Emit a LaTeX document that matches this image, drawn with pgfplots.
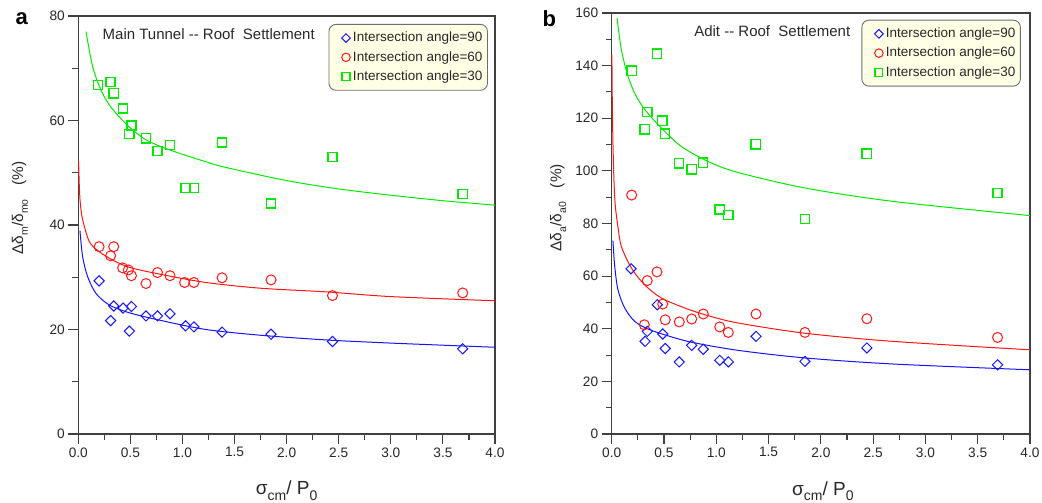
\documentclass[border=0pt]{standalone}
\usepackage{pgfplots}
\pgfplotsset{compat=1.18}
\usepackage{fontspec}
\setmainfont{Liberation Sans}
\definecolor{axgray}{RGB}{64,64,64}
\definecolor{txtgray}{RGB}{40,40,40}
\definecolor{legfill}{RGB}{255,255,230}
\definecolor{legdraw}{RGB}{110,110,110}
\definecolor{pgreen}{RGB}{0,235,0}
\definecolor{pblue}{RGB}{20,20,255}
\definecolor{pred}{RGB}{255,20,20}
\newcommand\sub[2][10.5]{\raisebox{-0.3em}{\fontsize{#1}{#1}\selectfont #2}}
\pgfplotsset{
  panel/.style={
    scale only axis,
    xmin=0, xmax=4, ymin=0,
    xtick={0,0.5,1,1.5,2,2.5,3,3.5,4},
    minor x tick num=1,
    minor y tick num=1,
    tick align=outside,
    tick pos=left,
    major tick length=10pt,
    minor tick length=6pt,
    axis line style={axgray, line width=1.1pt},
    tick style={axgray, line width=1.1pt},
    /pgf/number format/assume math mode=true,
    tick label style={font=\fontsize{13.7}{13.7}\selectfont, text=txtgray},
    xticklabel style={/pgf/number format/.cd, fixed, fixed zerofill, precision=1},
    yticklabel style={/pgf/number format/.cd, fixed, precision=0},
    xlabel style={font=\fontsize{19}{19}\selectfont, text=txtgray, anchor=center},
    ylabel style={font=\fontsize{15.5}{15.5}\selectfont, text=txtgray, anchor=center},
    legend cell align=left,
    legend image code/.code={\path[draw=none,fill=none] (-9pt,-2pt) rectangle (10pt,2pt);\draw[#1, mark repeat=2, mark phase=2, every mark/.append style={scale=0.85}] plot coordinates {(0pt,0pt) (5pt,0pt) (10pt,0pt)};},
    legend style={anchor=north east, draw=legdraw, line width=0.9pt, rounded corners=7pt, fill=legfill, font=\fontsize{13.5}{13.5}\selectfont, text=txtgray, inner xsep=3pt, inner ysep=4pt, row sep=0pt, nodes={inner ysep=2.2pt, inner xsep=2pt, text height=11.2pt, text depth=3.7pt}},
    clip=false,
  },
  sdia/.style={pblue, only marks, mark=square, mark size=3.6pt, mark options={rotate=45, line width=1pt}},
  scir/.style={pred, only marks, mark=o, mark size=5pt, mark options={line width=1pt}},
  ssq/.style={pgreen, only marks, mark=square, mark size=4.6pt, mark options={line width=1.4pt}},
  fitline/.style={no marks, line width=1pt, smooth, tension=0.5, forget plot},
}
\begin{document}
\begin{tikzpicture}
\path[use as bounding box] (0pt,0pt) rectangle (1042pt,503pt);
% ---------------- panel a ----------------
\begin{axis}[panel, at={(78.3pt,69pt)}, anchor=south west, width=416.7pt, height=418pt,
  ymax=80, ytick={0,20,40,60,80},
  xlabel={σ\sub[14]{cm}/ P\sub[14]{0}},
  xlabel style={at={(axis description cs:0.5,-0.136)}},
  ylabel={Δδ\sub{m}/δ\sub{mo}\hspace{0.9em}(\%)},
  ylabel style={at={(axis description cs:-0.14,0.541)}},
  legend style={at={(0.983,0.981)}},
]
\addplot[sdia] coordinates {
(0.20,29.3) (0.34,24.5) (0.31,21.7) (0.43,24.1) (0.51,24.4) (0.49,19.7) (0.65,22.6)
(0.76,22.6) (0.88,23.0) (1.03,20.7) (1.11,20.5) (1.38,19.5) (1.85,19.1) (2.44,17.7) (3.69,16.3)};
\addlegendentry{Intersection angle=90}
\addplot[scir] coordinates {
(0.20,35.85) (0.34,35.85) (0.31,34.1) (0.425,31.8) (0.48,31.4) (0.51,30.3) (0.65,28.8)
(0.76,30.9) (0.88,30.3) (1.02,29.0) (1.11,29.0) (1.38,29.9) (1.85,29.5) (2.44,26.5) (3.69,27.0)};
\addlegendentry{Intersection angle=60}
\addplot[ssq] coordinates {
(0.19,66.8) (0.31,67.4) (0.34,65.2) (0.43,62.3) (0.51,59.0) (0.49,57.4) (0.65,56.6)
(0.76,54.2) (0.88,55.3) (1.38,55.8) (1.03,47.1) (1.11,47.1) (1.85,44.1) (2.44,53.0) (3.69,45.9)};
\addlegendentry{Intersection angle=30}
\addplot[fitline, pblue] coordinates {
(0.016,38.9) (0.042,33.9) (0.09,30.1) (0.17,26.9) (0.297,24.7) (0.49,23.2) (0.777,21.8)
(1.225,20.0) (1.75,18.9) (2.38,18.0) (3.0,17.4) (4.0,16.6)};
\addplot[fitline, pred] coordinates {
(0.003,52.2) (0.01,47.3) (0.02,44.0) (0.042,41.0) (0.106,36.8) (0.2,34.9) (0.33,33.3) (0.49,31.9)
(0.78,30.6) (1.225,29.0) (1.75,27.9) (2.38,27.2) (3.0,26.3) (4.0,25.5)};
\addplot[fitline, pgreen] coordinates {
(0.074,77.0) (0.138,70.3) (0.218,65.8) (0.297,63.0) (0.393,60.7) (0.506,58.5) (0.65,56.3)
(0.873,54.4) (1.225,52.1) (1.42,51.0) (2.0,48.5) (2.5,46.9) (3.0,45.7) (3.5,44.65) (4.0,43.8)};
\node[anchor=base west, font=\fontsize{15}{15}\selectfont, text=txtgray] at (rel axis cs:0.05,0.943) {Main Tunnel {-}{-} Roof\ \ Settlement};
\end{axis}
% ---------------- panel b ----------------
\begin{axis}[panel, at={(611.7pt,69pt)}, anchor=south west, width=418.3pt, height=421pt,
  ymax=160, ytick={0,20,40,60,80,100,120,140,160},
  xlabel={σ\sub[14]{cm}/ P\sub[14]{0}},
  xlabel style={at={(axis description cs:0.505,-0.136)}},
  ylabel={Δδ\sub{a}/δ\sub{a0}\hspace{0.9em}(\%)},
  ylabel style={at={(axis description cs:-0.128,0.5375)}},
  legend style={at={(0.978,0.984)}},
]
\addplot[sdia] coordinates {
(0.185,62.8) (0.319,35.2) (0.34,39.0) (0.436,49.1) (0.488,38.0) (0.512,32.5) (0.646,27.4)
(0.765,33.7) (0.876,32.2) (1.033,28.0) (1.115,27.4) (1.38,37.1) (1.848,27.6) (2.44,32.7) (3.69,26.3)};
\addlegendentry{Intersection angle=90}
\addplot[scir] coordinates {
(0.191,90.8) (0.312,41.5) (0.34,58.3) (0.433,61.6) (0.488,49.4) (0.512,43.4) (0.646,42.6)
(0.765,43.7) (0.876,45.6) (1.033,40.7) (1.115,38.6) (1.38,45.6) (1.848,38.6) (2.44,43.8) (3.69,36.7)};
\addlegendentry{Intersection angle=60}
\addplot[ssq] coordinates {
(0.191,138.1) (0.433,144.5) (0.34,122.4) (0.315,115.8) (0.484,119.1) (0.51,114.1) (0.643,102.9)
(0.765,100.6) (0.873,103.1) (1.377,110.1) (1.033,85.3) (1.115,83.2) (1.848,81.7) (2.438,106.5) (3.69,91.6)};
\addlegendentry{Intersection angle=30}
\addplot[fitline, pblue] coordinates {
(0.012,73.5) (0.029,63.7) (0.06,54.8) (0.124,47.9) (0.22,42.8) (0.347,39.9) (0.507,37.7)
(0.761,34.9) (1.207,31.8) (1.85,28.9) (2.69,26.6) (4.0,24.4)};
\addplot[fitline, pred] coordinates {
(0.002,144.2) (0.006,125) (0.012,110.6) (0.022,96) (0.035,86.5) (0.06,78.7) (0.092,71.3)
(0.188,63.1) (0.315,56.7) (0.474,51.7) (0.698,47.9) (0.92,45.0) (1.207,42.2) (1.848,38.3)
(2.69,35.2) (4.0,32.0)};
\addplot[fitline, pgreen] coordinates {
(0.051,158.1) (0.092,146.1) (0.156,135.9) (0.235,128.3) (0.331,122.6) (0.474,116.3) (0.665,109.3)
(0.92,103.6) (1.207,99.4) (1.848,93.5) (2.69,88.4) (4.0,83.0)};
\node[anchor=base west, font=\fontsize{15}{15}\selectfont, text=txtgray] at (rel axis cs:0.189,0.943) {Adit {-}{-} Roof\ \ Settlement};
\end{axis}
\node[anchor=base west, font=\bfseries\fontsize{22}{22}\selectfont] at (12pt,478pt) {a};
\node[anchor=base west, font=\bfseries\fontsize{22}{22}\selectfont] at (539pt,476pt) {b};
\end{tikzpicture}
\end{document}
